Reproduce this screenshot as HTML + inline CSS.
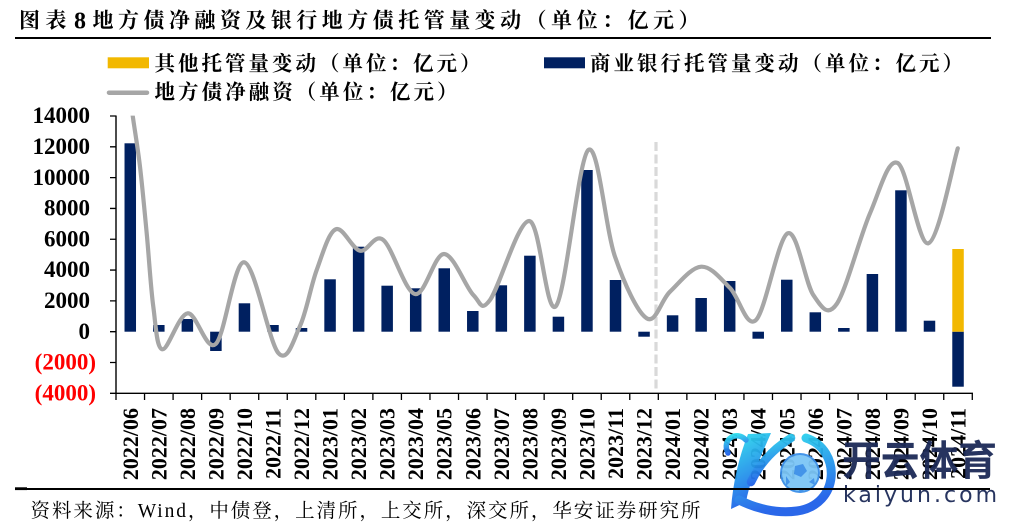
<!DOCTYPE html>
<html><head><meta charset="utf-8">
<style>
html,body{margin:0;padding:0;background:#fff;}
body{position:relative;width:1012px;height:529px;overflow:hidden;}
svg{display:block;position:absolute;left:0;top:0;}
.cjk{font-family:"Liberation Serif","Noto Serif CJK SC",serif;}
.num{font-family:"Liberation Serif",serif;font-weight:bold;}
#rule{position:absolute;left:15px;top:488px;width:975px;height:2px;background:#000;z-index:5;}
</style></head>
<body>
<svg width="1012" height="529" viewBox="0 0 1012 529" xmlns="http://www.w3.org/2000/svg">
<defs>
<clipPath id="pc"><rect x="116" y="115.6" width="870" height="280"/></clipPath>
<linearGradient id="kg" x1="0" y1="0" x2="0.3" y2="1">
<stop offset="0" stop-color="#2fe3ef"/><stop offset="1" stop-color="#1f5fe8"/></linearGradient>
</defs>

<!-- Title -->
<text class="cjk" x="19" y="27.5" font-size="21" font-weight="bold" textLength="47.4" lengthAdjust="spacing">图表</text>
<text class="num" x="74" y="28.3" font-size="24">8</text>
<text class="cjk" x="92.5" y="27.5" font-size="21" font-weight="bold" textLength="607" lengthAdjust="spacing">地方债净融资及银行地方债托管量变动（单位：亿元）</text>
<rect x="15" y="37" width="976" height="2" fill="#000"/>
<path d="M15,489H990" stroke="#000" stroke-width="2" fill="none"/>

<!-- Legend -->
<rect x="107.7" y="57.3" width="41.3" height="11" fill="#F2B800"/>
<text class="cjk" x="154.5" y="70.5" font-size="20.5" font-weight="bold" textLength="326" lengthAdjust="spacing">其他托管量变动（单位：亿元）</text>
<rect x="544" y="57.3" width="41" height="11" fill="#002060"/>
<text class="cjk" x="590" y="70.5" font-size="20.5" font-weight="bold" textLength="373" lengthAdjust="spacing">商业银行托管量变动（单位：亿元）</text>
<line x1="109" y1="92.7" x2="147" y2="92.7" stroke="#A6A6A6" stroke-width="4.5" stroke-linecap="round"/>
<text class="cjk" x="154.5" y="99" font-size="20.5" font-weight="bold" textLength="303" lengthAdjust="spacing">地方债净融资（单位：亿元）</text>

<!-- Y axis -->
<g class="num" font-size="23" text-anchor="end">
<text x="90" y="123.2">14000</text>
<text x="90" y="154">12000</text>
<text x="90" y="184.8">10000</text>
<text x="90" y="215.6">8000</text>
<text x="90" y="246.4">6000</text>
<text x="90" y="277.2">4000</text>
<text x="90" y="308">2000</text>
<text x="90" y="338.8">0</text>
<text x="96" y="369.6" fill="#FF0000">(2000)</text>
<text x="96" y="400.3" fill="#FF0000">(4000)</text>
</g>
<line x1="116" y1="115.5" x2="116" y2="393.8" stroke="#000" stroke-width="1.4"/>
<path d="M110,116H116M110,146.81H116M110,177.62H116M110,208.43H116M110,239.24H116M110,270.06H116M110,300.87H116M110,331.68H116M110,362.49H116M110,393.3H116" stroke="#000" stroke-width="1.3"/>

<!-- X axis -->
<line x1="115.3" y1="393.3" x2="973" y2="393.3" stroke="#000" stroke-width="1.4"/>
<path d="M116,393.3v6.7M144.54,393.3v6.7M173.09,393.3v6.7M201.63,393.3v6.7M230.17,393.3v6.7M258.72,393.3v6.7M287.26,393.3v6.7M315.8,393.3v6.7M344.34,393.3v6.7M372.89,393.3v6.7M401.43,393.3v6.7M429.97,393.3v6.7M458.52,393.3v6.7M487.06,393.3v6.7M515.6,393.3v6.7M544.15,393.3v6.7M572.69,393.3v6.7M601.23,393.3v6.7M629.77,393.3v6.7M658.32,393.3v6.7M686.86,393.3v6.7M715.4,393.3v6.7M743.95,393.3v6.7M772.49,393.3v6.7M801.03,393.3v6.7M829.58,393.3v6.7M858.12,393.3v6.7M886.66,393.3v6.7M915.2,393.3v6.7M943.75,393.3v6.7M972.29,393.3v6.7" stroke="#000" stroke-width="1.3"/>

<g class="num" font-size="22" text-anchor="end">
<text transform="translate(137.8,408) rotate(-90)">2022/06</text>
<text transform="translate(166.3,408) rotate(-90)">2022/07</text>
<text transform="translate(194.9,408) rotate(-90)">2022/08</text>
<text transform="translate(223.4,408) rotate(-90)">2022/09</text>
<text transform="translate(251.9,408) rotate(-90)">2022/10</text>
<text transform="translate(280.5,408) rotate(-90)">2022/11</text>
<text transform="translate(309,408) rotate(-90)">2022/12</text>
<text transform="translate(337.6,408) rotate(-90)">2023/01</text>
<text transform="translate(366.1,408) rotate(-90)">2023/02</text>
<text transform="translate(394.7,408) rotate(-90)">2023/03</text>
<text transform="translate(423.2,408) rotate(-90)">2023/04</text>
<text transform="translate(451.7,408) rotate(-90)">2023/05</text>
<text transform="translate(480.3,408) rotate(-90)">2023/06</text>
<text transform="translate(508.8,408) rotate(-90)">2023/07</text>
<text transform="translate(537.4,408) rotate(-90)">2023/08</text>
<text transform="translate(565.9,408) rotate(-90)">2023/09</text>
<text transform="translate(594.5,408) rotate(-90)">2023/10</text>
<text transform="translate(623,408) rotate(-90)">2023/11</text>
<text transform="translate(651.5,408) rotate(-90)">2023/12</text>
<text transform="translate(680.1,408) rotate(-90)">2024/01</text>
<text transform="translate(708.6,408) rotate(-90)">2024/02</text>
<text transform="translate(737.2,408) rotate(-90)">2024/03</text>
<text transform="translate(765.7,408) rotate(-90)">2024/04</text>
<text transform="translate(794.3,408) rotate(-90)">2024/05</text>
<text transform="translate(822.8,408) rotate(-90)">2024/06</text>
<text transform="translate(851.4,408) rotate(-90)">2024/07</text>
<text transform="translate(879.9,408) rotate(-90)">2024/08</text>
<text transform="translate(908.4,408) rotate(-90)">2024/09</text>
<text transform="translate(937,408) rotate(-90)">2024/10</text>
<text transform="translate(965.5,408) rotate(-90)">2024/11</text>
</g>

<!-- Bars -->
<g fill="#002060">
<rect x="124.52" y="143.3" width="11.5" height="188.4"/>
<rect x="153.06" y="325" width="11.5" height="6.7"/>
<rect x="181.61" y="319" width="11.5" height="12.7"/>
<rect x="210.15" y="331.7" width="11.5" height="19.3"/>
<rect x="238.69" y="303.3" width="11.5" height="28.4"/>
<rect x="267.24" y="325" width="11.5" height="6.7"/>
<rect x="295.78" y="328" width="11.5" height="3.7"/>
<rect x="324.32" y="279.3" width="11.5" height="52.4"/>
<rect x="352.87" y="246.7" width="11.5" height="85"/>
<rect x="381.41" y="285.7" width="11.5" height="46"/>
<rect x="409.95" y="288.3" width="11.5" height="43.4"/>
<rect x="438.5" y="268.3" width="11.5" height="63.4"/>
<rect x="467.04" y="311" width="11.5" height="20.7"/>
<rect x="495.58" y="285.3" width="11.5" height="46.4"/>
<rect x="524.13" y="255.7" width="11.5" height="76"/>
<rect x="552.67" y="316.7" width="11.5" height="15"/>
<rect x="581.21" y="170" width="11.5" height="161.7"/>
<rect x="609.76" y="280" width="11.5" height="51.7"/>
<rect x="638.3" y="331.7" width="11.5" height="5"/>
<rect x="666.84" y="315.3" width="11.5" height="16.4"/>
<rect x="695.39" y="298" width="11.5" height="33.7"/>
<rect x="723.93" y="281" width="11.5" height="50.7"/>
<rect x="752.47" y="331.7" width="11.5" height="7"/>
<rect x="781.02" y="279.7" width="11.5" height="52"/>
<rect x="809.56" y="312.3" width="11.5" height="19.4"/>
<rect x="838.1" y="328" width="11.5" height="3.7"/>
<rect x="866.65" y="274" width="11.5" height="57.7"/>
<rect x="895.19" y="190.3" width="11.5" height="141.4"/>
<rect x="923.73" y="320.7" width="11.5" height="11"/>
<rect x="952.28" y="331.7" width="11.5" height="55"/>
</g>
<rect x="952.28" y="249" width="11.5" height="82.7" fill="#F2B800"/>

<!-- Dashed divider -->
<line x1="656" y1="142" x2="656" y2="392" stroke="#D9D9D9" stroke-width="3.2" stroke-dasharray="9 3.5"/>

<!-- Line -->
<path d="M129.5,90 C130.03,94.28 130.95,102.92 132.7,115.7 C134.45,128.48 137.67,147.1 140,166.7 C142.33,186.3 144.48,209.97 146.7,233.3 C148.92,256.63 150.7,287.37 153.3,306.7 C155.9,326.03 156.57,348.2 162.3,349.3 C168.03,350.4 178.8,314.18 187.7,313.3 C196.6,312.42 206.27,352.5 215.7,344 C225.13,335.5 233.87,260.8 244.3,262.3 C254.73,263.8 269.02,342.38 278.3,353 C287.58,363.62 293.6,339.83 300,326 C306.4,312.17 310.75,286.12 316.7,270 C322.65,253.88 328.48,232.52 335.7,229.3 C342.92,226.08 352.07,248.92 360,250.7 C367.93,252.48 374.13,232.78 383.3,240 C392.47,247.22 404.88,291.67 415,294 C425.12,296.33 434.28,253.83 444,254 C453.72,254.17 465.63,287.33 473.3,295 C480.97,302.67 480.67,312.33 490,300 C499.33,287.67 518.3,220 529.3,221 C540.3,222 546.17,317.83 556,306 C565.83,294.17 578.47,158.22 588.3,150 C598.13,141.78 605.27,228.65 615,256.7 C624.73,284.75 637.53,312.47 646.7,318.3 C655.87,324.13 660.92,300.3 670,291.7 C679.08,283.1 691.2,267.32 701.2,266.7 C711.2,266.08 720.87,279.12 730,288 C739.13,296.88 746.38,329.12 756,320 C765.62,310.88 778.15,237.47 787.7,233.3 C797.25,229.13 805.13,283.22 813.3,295 C821.47,306.78 827.25,317.62 836.7,304 C846.15,290.38 859.83,236.8 870,213.3 C880.17,189.8 887.98,158 897.7,163 C907.42,168 918.28,245.75 928.3,243.3 C938.32,240.85 952.88,164.13 957.8,148.3" fill="none" stroke="#A6A6A6" stroke-width="4.2" stroke-linejoin="round" stroke-linecap="round" clip-path="url(#pc)"/>

<!-- Source -->
<rect x="15" y="487.3" width="12" height="2.8" fill="#000"/>
<text class="cjk" x="30.5" y="517" font-size="19.5" textLength="670" lengthAdjust="spacing">资料来源：Wind，中债登，上清所，上交所，深交所，华安证券研究所</text>

<!-- Watermark -->
<g opacity="0.95">
<path d="M748,434 L771,433 C760,458 750,480 746,502 L731,509 C733,482 739,457 748,434 Z" fill="url(#kg)"/>
<path d="M746,440 C737,430 721,439 728,453" fill="none" stroke="url(#kg)" stroke-width="5.5" stroke-linecap="round"/>
<path d="M751,482 C760,463 773,449 791,438" fill="none" stroke="url(#kg)" stroke-width="8.5" stroke-linecap="round"/>
<path d="M806,438 C842,450 840,505 797,511 C776,514 755,508 739,500" fill="none" stroke="url(#kg)" stroke-width="9" stroke-linecap="round"/>
<circle cx="800" cy="473" r="19" fill="#7cc6f6" stroke="#3b8fe8" stroke-width="2"/>
<path d="M795,466 L803,464 L807,471 L801,477 L794,474 Z" fill="#3b8fe8"/>
<path d="M786,476 L790,482 L786,486 Z M809,482 L814,478 L815,485 Z M798,489 L804,490 L801,493 Z" fill="#3b8fe8"/>
<text x="842" y="475" font-family="'Noto Sans CJK SC','WenQuanYi Zen Hei',sans-serif" font-weight="bold" font-size="41" fill="#1c2a57" textLength="155" lengthAdjust="spacingAndGlyphs">开云体育</text>
<text x="843" y="502" font-family="'DejaVu Sans','Liberation Sans',sans-serif" font-size="22" fill="#1c2a57" textLength="154" lengthAdjust="spacing">kaiyun.com</text>
</g>
</svg>
<div id="rule"></div>
</body></html>
